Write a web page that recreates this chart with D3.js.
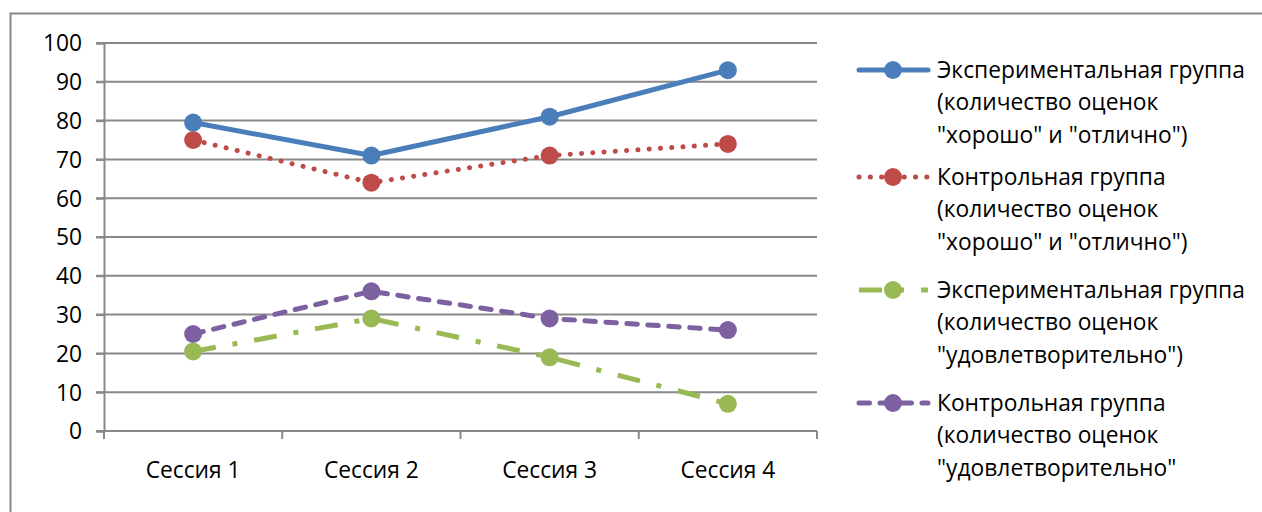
<!DOCTYPE html>
<html><head><meta charset="utf-8">
<script src="https://cdn.jsdelivr.net/npm/d3@7"></script>
<style>body{margin:0;background:#fff}svg{display:block}text{font-family:"Open Sans",sans-serif;fill:#000}</style>
</head><body><svg id="c" width="1262" height="512"></svg>
<script>
const categories = ["Сессия 1","Сессия 2","Сессия 3","Сессия 4"];
const expGood = [79.5, 71, 81, 93];
const ctrlGood = [75, 64, 71, 74];
const expSat = [20.5, 29, 19, 7];
const ctrlSat = [25, 36, 29, 26];
const yTicks = [0,10,20,30,40,50,60,70,80,90,100];
const seriesNames = [
  ["Экспериментальная группа","(количество оценок","\"хорошо\" и \"отлично\")"],
  ["Контрольная группа","(количество оценок","\"хорошо\" и \"отлично\")"],
  ["Экспериментальная группа","(количество оценок","\"удовлетворительно\")"],
  ["Контрольная группа","(количество оценок","\"удовлетворительно\""]
];
const series = [
  {values: expGood, color:"#4a7ebb", dash:null, cap:"round"},
  {values: ctrlGood, color:"#be4b48", dash:"0.1,11.2", cap:"round"},
  {values: expSat, color:"#98b954", dash:"23,17,5,17", cap:"butt"},
  {values: ctrlSat, color:"#7d60a0", dash:"10.5,10.5", cap:"round"}
];

const svg = d3.select("#c");
const grey = "#898989";
svg.append("path").attr("d","M10.5,520 V13.5 H1270").attr("fill","none").attr("stroke",grey).attr("stroke-width",2);

const probe = svg.append("text").attr("font-size",18).text("Экспериментальная группа");
const w18 = probe.node().getComputedTextLength();
probe.remove();
const fs = 18 * 308 / w18;

const x = d3.scaleBand().domain(categories).range([104, 817]);
const y = d3.scaleLinear().domain([0,100]).range([431, 43]);

svg.append("g").selectAll("line").data(yTicks).join("line")
  .attr("x1",96).attr("x2",817).attr("y1",d=>y(d)).attr("y2",d=>y(d))
  .attr("stroke",grey).attr("stroke-width",2);

const yAxis = d3.axisLeft(y).tickValues(yTicks).tickSize(8).tickPadding(14);
const gy = svg.append("g").attr("transform","translate(104,0)").call(yAxis);
gy.select(".domain").attr("stroke",grey).attr("stroke-width",2);
gy.selectAll(".tick line").attr("stroke",grey).attr("stroke-width",2);
gy.selectAll(".tick text").attr("font-size",fs).attr("font-family","Open Sans").attr("fill","#000").attr("dy","0.35em");

const xAxis = d3.axisBottom(x).tickSize(0).tickPadding(0);
const gx = svg.append("g").attr("transform","translate(0,431)").call(xAxis);
gx.select(".domain").remove();
gx.selectAll(".tick text").attr("font-size",fs).attr("font-family","Open Sans").attr("fill","#000").attr("dy",null).attr("y",47);
const bounds = categories.map(c=>x(c)).concat([x(categories[3])+x.bandwidth()]);
svg.append("g").selectAll("line").data(bounds).join("line")
  .attr("x1",d=>d).attr("x2",d=>d).attr("y1",431).attr("y2",439)
  .attr("stroke",grey).attr("stroke-width",2);
svg.append("line").attr("x1",104).attr("x2",817).attr("y1",431).attr("y2",431).attr("stroke",grey).attr("stroke-width",2);

const cx = c => x(c) + x.bandwidth()/2;
const line = d3.line().x((d,i)=>cx(categories[i])).y(d=>y(d));

const order = [3,2,1,0];
order.forEach(k=>{
  const s = series[k];
  svg.append("path").datum(s.values).attr("d",line).attr("fill","none")
    .attr("stroke",s.color).attr("stroke-width",5)
    .attr("stroke-dasharray",s.dash).attr("stroke-linecap",s.cap).attr("stroke-linejoin","round");
  svg.append("g").selectAll("circle").data(s.values).join("circle")
    .attr("cx",(d,i)=>cx(categories[i])).attr("cy",d=>y(d)).attr("r",9).attr("fill",s.color);
});

const legTop = [70, 177, 290, 403];
const leg = svg.append("g");
series.forEach((s,k)=>{
  const g = leg.append("g").attr("transform",`translate(0,${legTop[k]})`);
  g.append("line").attr("x1",859).attr("x2",928).attr("y1",0).attr("y2",0)
    .attr("stroke",s.color).attr("stroke-width",5).attr("stroke-dasharray",s.dash).attr("stroke-linecap",s.cap);
  g.append("circle").attr("cx",893).attr("cy",0).attr("r",9).attr("fill",s.color);
  seriesNames[k].forEach((t,j)=>{
    g.append("text").attr("x",937).attr("y",j*32.5).attr("dy","0.35em").attr("font-size",fs).text(t);
  });
});
</script></body></html>
